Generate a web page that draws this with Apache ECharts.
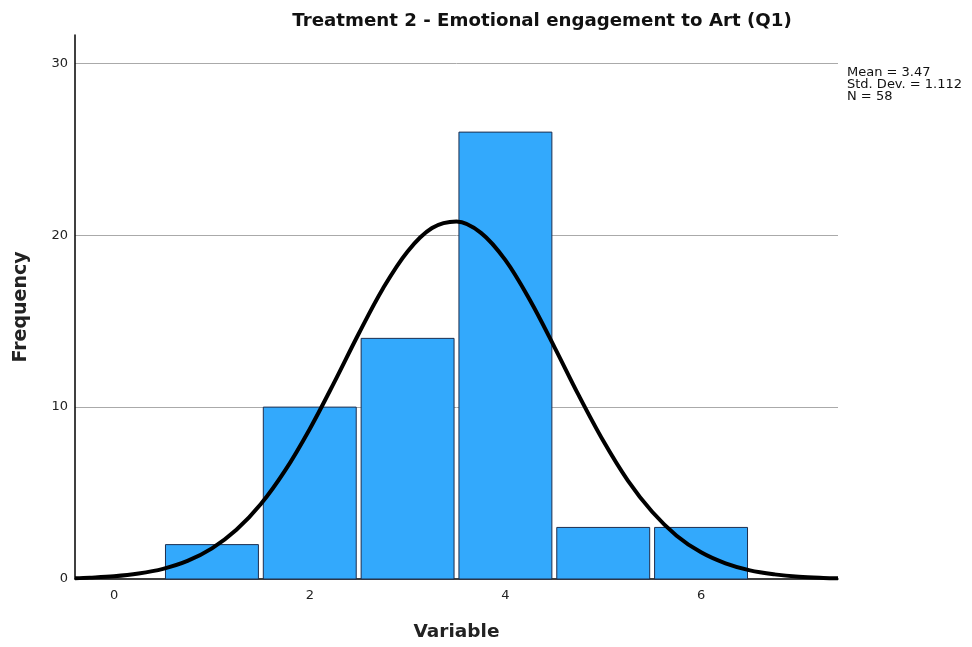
<!DOCTYPE html>
<html>
<head>
<meta charset="utf-8">
<script src="https://cdn.jsdelivr.net/npm/echarts@6/dist/echarts.min.js"></script>
<style>
html,body{margin:0;padding:0;background:#fff;}
#chart{width:972px;height:647px;}
</style>
</head>
<body>
<div id="chart"></div>
<script>
// Histogram bins (bin centre) and frequencies
var binCenters = [1, 2, 3, 4, 5, 6];
var frequencies = [2, 10, 14, 26, 3, 3];
// Normal curve points
var curveX = [-0.4, -0.25, 0, 0.25, 0.5, 0.75, 1, 1.25, 1.5, 1.75, 2, 2.25, 2.5, 2.75, 3, 3.25, 3.5, 3.75, 4, 4.25, 4.5, 4.75, 5, 5.25, 5.5, 5.75, 6, 6.25, 6.5, 6.75, 7, 7.25, 7.4];
var curveY = [0.05, 0.08, 0.16, 0.32, 0.59, 1.05, 1.78, 2.86, 4.36, 6.33, 8.73, 11.44, 14.27, 16.92, 19.06, 20.42, 20.80, 20.14, 18.55, 16.23, 13.51, 10.68, 8.04, 5.74, 3.91, 2.52, 1.55, 0.91, 0.50, 0.27, 0.13, 0.06, 0.04];
var xTickLabels = [0, 2, 4, 6];
var yTickLabels = [0, 10, 20, 30];
var statsLines = ['Mean = 3.47', 'Std. Dev. = 1.112', 'N = 58'];
var titleText = 'Treatment 2 - Emotional engagement to Art (Q1)';
var xTitle = 'Variable';
var yTitle = 'Frequency';

var barData = binCenters.map(function (c, i) { return [c, frequencies[i]]; });
var curveData = curveX.map(function (x, i) { return [x, curveY[i]]; });

var chart = echarts.init(document.getElementById('chart'));
var fontFam = '"DejaVu Sans", Verdana, sans-serif';
chart.setOption({
  animation: false,
  backgroundColor: '#fff',
  title: {
    text: titleText,
    left: 537, top: 7, textAlign: 'center',
    textStyle: { fontFamily: fontFam, fontSize: 18.2, fontWeight: 'bold', color: '#111' }
  },
  graphic: statsLines.map(function (t, i) {
    return {
      type: 'text', left: 847, top: 66 + i * 12,
      style: { text: t, font: '13px ' + fontFam, fill: '#111' }
    };
  }),
  grid: { left: 75, right: 134, top: 35, bottom: 68, containLabel: false },
  xAxis: {
    type: 'value', min: -0.4, max: 7.4,
    name: xTitle, nameLocation: 'middle', nameGap: 44,
    nameTextStyle: { fontFamily: fontFam, fontSize: 18.5, fontWeight: 'bold', color: '#222' },
    axisLine: { show: true, onZero: false, lineStyle: { color: '#000', width: 1.5 } },
    axisTick: { show: false },
    axisLabel: { customValues: xTickLabels, fontFamily: fontFam, fontSize: 13, color: '#222', margin: 10 },
    splitLine: { show: false }
  },
  yAxis: {
    type: 'value', min: 0, max: 31.65, interval: 10,
    name: yTitle, nameLocation: 'middle', nameGap: 44, nameRotate: 90,
    nameTextStyle: { fontFamily: fontFam, fontSize: 19, fontWeight: 'bold', color: '#222' },
    axisLine: { show: true, onZero: false, lineStyle: { color: '#000', width: 1.5 } },
    axisTick: { show: false },
    axisLabel: { customValues: yTickLabels, fontFamily: fontFam, fontSize: 13, color: '#222', margin: 7 },
    splitLine: { show: true, showMinLine: false, showMaxLine: false, lineStyle: { color: '#aaa', width: 1 } }
  },
  series: [
    {
      type: 'custom',
      data: barData,
      z: 2,
      renderItem: function (params, api) {
        var c = api.value(0), v = api.value(1);
        var p0 = api.coord([c - 0.475, v]);
        var p1 = api.coord([c + 0.475, 0]);
        return {
          type: 'rect',
          shape: { x: p0[0], y: p0[1], width: p1[0] - p0[0], height: p1[1] - p0[1] },
          style: { fill: '#33A9FC', stroke: '#1E2E4E', lineWidth: 1 }
        };
      }
    },
    {
      type: 'line',
      data: curveData,
      smooth: 0.35,
      showSymbol: false,
      symbol: 'none',
      z: 5,
      lineStyle: { color: '#000', width: 4 }
    }
  ]
});
</script>
</body>
</html>
